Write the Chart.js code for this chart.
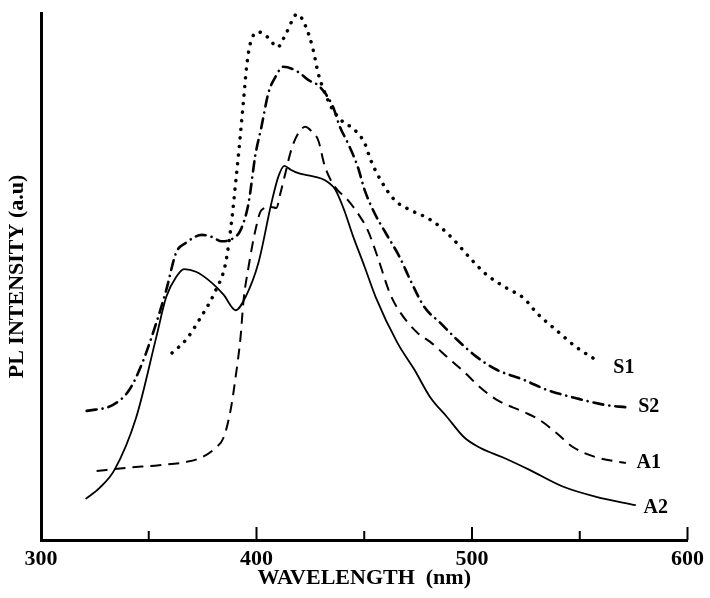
<!DOCTYPE html>
<html>
<head>
<meta charset="utf-8">
<script src="https://cdn.jsdelivr.net/npm/chart.js@4/dist/chart.umd.min.js"></script>
<style>
  body { margin: 0; background: #fff; }
  canvas { display: block; }
</style>
</head>
<body>
<canvas id="plChart" width="710" height="598"></canvas>
<script>
// wavelength (nm) / PL intensity (a.u., 0-100)
const s1Wave = [360.8, 367.3, 373.3, 381.1, 385.7, 388.5, 390.3, 391.7, 394.0, 395.4, 397.2, 400.9, 405.5, 409.7, 413.8, 418.9, 423.0, 426.3, 428.6, 431.8, 434.6, 439.2, 445.6, 450.2, 453.0, 457.6, 464.1, 471.4, 479.3, 485.3, 491.7, 499.1, 506.9, 516.1, 524.0, 530.0, 539.2, 548.4, 559.0];
const s1Int  = [35.5, 38.0, 41.7, 47.4, 52.6, 60.7, 67.7, 73.4, 83.5, 89.8, 94.3, 96.4, 95.3, 93.5, 96.2, 99.8, 97.3, 93.0, 88.6, 84.8, 82.2, 79.7, 77.8, 75.3, 72.1, 68.3, 64.5, 62.6, 61.1, 59.4, 56.9, 53.5, 50.3, 47.8, 45.9, 43.1, 39.8, 36.6, 33.8];

const s2Wave = [321.2, 333.2, 341.0, 347.0, 353.5, 358.1, 362.7, 367.3, 374.7, 379.3, 383.9, 388.5, 392.6, 396.3, 399.5, 402.3, 405.5, 408.8, 412.4, 419.4, 424.0, 428.6, 431.8, 435.5, 438.7, 442.4, 447.0, 450.2, 454.8, 459.9, 466.4, 471.4, 477.9, 485.3, 493.1, 502.3, 511.5, 524.0, 534.6, 548.4, 562.2, 571.4];
const s2Int  = [24.5, 25.6, 28.5, 33.6, 41.2, 47.4, 54.5, 56.4, 57.9, 57.5, 56.7, 57.1, 58.8, 63.9, 73.1, 78.4, 84.8, 87.9, 89.8, 88.8, 87.3, 86.3, 84.8, 82.2, 78.4, 75.3, 70.8, 66.4, 62.0, 58.3, 53.7, 49.3, 44.2, 41.2, 38.0, 34.7, 32.3, 30.4, 28.5, 26.9, 25.6, 25.2];

const a1Wave = [325.8, 339.6, 354.8, 367.3, 374.7, 381.1, 384.8, 388.0, 390.3, 392.6, 394.0, 396.3, 399.5, 402.3, 406.9, 409.2, 411.1, 413.4, 416.1, 419.4, 422.6, 426.3, 428.6, 431.8, 436.4, 442.4, 447.0, 451.6, 456.2, 461.8, 465.4, 474.7, 480.6, 488.5, 496.3, 503.7, 511.5, 524.0, 531.3, 539.2, 547.0, 557.6, 571.4];
const a1Int  = [13.1, 13.7, 14.2, 14.8, 15.7, 17.5, 19.5, 24.7, 30.9, 38.5, 45.5, 51.8, 58.8, 62.6, 63.2, 63.0, 65.8, 69.6, 74.0, 77.2, 78.4, 77.2, 75.9, 70.8, 67.0, 64.5, 62.0, 58.8, 53.7, 46.9, 44.0, 39.3, 37.6, 34.7, 31.9, 29.0, 26.6, 24.3, 22.8, 20.3, 17.6, 15.7, 14.6];

const a2Wave = [320.7, 327.2, 334.1, 344.2, 353.5, 358.1, 362.7, 366.4, 371.9, 379.3, 384.8, 390.3, 394.9, 400.9, 406.9, 410.1, 412.9, 416.1, 419.4, 424.0, 430.0, 433.2, 436.4, 440.5, 444.5, 450.2, 455.3, 465.4, 473.3, 480.6, 488.5, 496.3, 503.7, 514.7, 526.7, 542.4, 557.6, 576.0];
const a2Int  = [7.8, 9.9, 13.3, 23.3, 38.5, 46.1, 49.9, 51.4, 50.9, 48.8, 46.5, 43.6, 46.1, 52.6, 63.9, 68.9, 71.0, 70.2, 69.6, 69.2, 68.6, 67.9, 66.6, 62.8, 58.0, 51.8, 46.1, 37.4, 32.3, 27.1, 23.3, 19.5, 17.5, 15.6, 13.3, 10.1, 8.2, 6.6];

// curve labels and where they sit
const seriesNames = ["S1", "S2", "A1", "A2"];
const labelWave = [570.5, 582.0, 582.0, 585.3];
const labelInt  = [32.6, 25.2, 14.6, 6.1];

const majorTicks = [300, 400, 500, 600];

const toPoints = (xs, ys) => xs.map((x, i) => ({ x: x, y: ys[i] }));

const serif = "'Liberation Serif', 'Times New Roman', serif";

// tick marks point up into the plot, long at 100s, short at 50s
const innerTicks = {
  id: "innerTicks",
  afterDraw(chart) {
    const ctx = chart.ctx;
    const xs = chart.scales.x;
    ctx.save();
    ctx.strokeStyle = "#000";
    ctx.lineWidth = 2;
    for (let v = 350; v <= 600; v += 50) {
      const px = xs.getPixelForValue(v);
      const len = majorTicks.includes(v) ? 13 : 9;
      ctx.beginPath();
      ctx.moveTo(px, xs.top);
      ctx.lineTo(px, xs.top - len);
      ctx.stroke();
    }
    ctx.restore();
  }
};

const curveLabels = {
  id: "curveLabels",
  afterDatasetsDraw(chart) {
    const ctx = chart.ctx;
    const xs = chart.scales.x, ys = chart.scales.y;
    ctx.save();
    ctx.fillStyle = "#000";
    ctx.font = "bold 20px " + serif;
    ctx.textAlign = "center";
    ctx.textBaseline = "middle";
    seriesNames.forEach((name, i) => {
      ctx.fillText(name, xs.getPixelForValue(labelWave[i]), ys.getPixelForValue(labelInt[i]));
    });
    ctx.restore();
  }
};

const lineBase = {
  borderColor: "#000",
  pointRadius: 0,
  fill: false,
  cubicInterpolationMode: "monotone"
};

new Chart(document.getElementById("plChart"), {
  type: "line",
  data: {
    datasets: [
      Object.assign({}, lineBase, { label: "S1", data: toPoints(s1Wave, s1Int), borderWidth: 3.5, borderDash: [0.1, 8.5], borderCapStyle: "round" }),
      Object.assign({}, lineBase, { label: "S2", data: toPoints(s2Wave, s2Int), borderWidth: 2.6, borderDash: [10, 6, 0.1, 6], borderCapStyle: "round" }),
      Object.assign({}, lineBase, { label: "A1", data: toPoints(a1Wave, a1Int), borderWidth: 2, borderDash: [11, 7] }),
      Object.assign({}, lineBase, { label: "A2", data: toPoints(a2Wave, a2Int), borderWidth: 1.8 })
    ]
  },
  options: {
    responsive: false,
    animation: false,
    layout: { padding: { left: 0, top: 13, right: 18, bottom: 0 } },
    plugins: {
      legend: { display: false },
      tooltip: { enabled: false }
    },
    scales: {
      x: {
        type: "linear",
        min: 300,
        max: 600,
        grid: { display: false, drawTicks: false },
        border: { display: true, color: "#000", width: 3 },
        ticks: {
          stepSize: 50,
          padding: 6,
          color: "#000",
          maxRotation: 0,
          font: { family: serif, size: 22, weight: "bold" },
          callback: (v) => (majorTicks.includes(v) ? String(v) : "")
        },
        title: {
          display: true,
          text: "WAVELENGTH  (nm)",
          color: "#000",
          font: { family: serif, size: 22, weight: "bold" },
          padding: { top: 0, bottom: 6 }
        },
        afterFit: (scale) => { scale.height = 58; }
      },
      y: {
        min: 0,
        max: 100,
        grid: { display: false, drawTicks: false },
        border: { display: true, color: "#000", width: 3 },
        ticks: { display: false },
        title: {
          display: true,
          text: "PL INTENSITY (a.u)",
          color: "#000",
          font: { family: serif, size: 22, weight: "bold" },
          padding: { top: 4, bottom: 0 }
        },
        afterFit: (scale) => { scale.width = 41; }
      }
    }
  },
  plugins: [innerTicks, curveLabels]
});
</script>
</body>
</html>
